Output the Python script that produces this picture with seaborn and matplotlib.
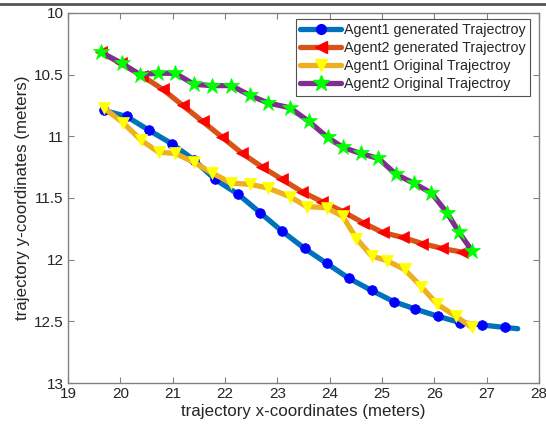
import matplotlib
matplotlib.use("Agg")
import matplotlib.pyplot as plt
import seaborn as sns
import pandas as pd
from matplotlib.lines import Line2D

sns.set_theme(style="white")
plt.rcParams['font.family'] = ['Liberation Sans', 'DejaVu Sans']

a1g_x = [19.68, 20.12, 20.54, 20.98, 21.40, 21.81, 22.25, 22.67, 23.09, 23.52, 23.94, 24.36,
         24.80, 25.22, 25.63, 26.07, 26.49, 26.91, 27.35, 27.59]
a1g_y = [10.79, 10.84, 10.95, 11.06, 11.19, 11.35, 11.47, 11.62, 11.77, 11.91, 12.03, 12.15,
         12.25, 12.34, 12.40, 12.46, 12.51, 12.53, 12.55, 12.56]

a2g_x = [19.63, 20.01, 20.41, 20.81, 21.19, 21.57, 21.95, 22.33, 22.71, 23.09, 23.47, 23.85,
         24.25, 24.63, 25.01, 25.39, 25.77, 26.15, 26.53, 26.72]
a2g_y = [10.32, 10.41, 10.51, 10.62, 10.75, 10.88, 11.01, 11.14, 11.25, 11.35, 11.45, 11.53,
         11.61, 11.70, 11.78, 11.82, 11.87, 11.91, 11.94, 11.94]

a1o_x = [19.68, 20.05, 20.39, 20.73, 21.05, 21.40, 21.76, 22.12, 22.48, 22.82, 23.24, 23.56,
         23.94, 24.25, 24.51, 24.80, 25.10, 25.43, 25.75, 26.05, 26.41, 26.72]
a1o_y = [10.77, 10.89, 11.03, 11.13, 11.14, 11.21, 11.30, 11.38, 11.39, 11.42, 11.49, 11.57,
         11.58, 11.65, 11.83, 11.97, 12.01, 12.08, 12.22, 12.36, 12.46, 12.55]

a2o_x = [19.63, 20.03, 20.37, 20.71, 21.05, 21.41, 21.76, 22.12, 22.48, 22.82, 23.24, 23.60,
         23.96, 24.25, 24.59, 24.93, 25.27, 25.60, 25.94, 26.24, 26.47, 26.72]
a2o_y = [10.32, 10.41, 10.50, 10.49, 10.49, 10.58, 10.59, 10.59, 10.67, 10.73, 10.77, 10.88,
         11.01, 11.09, 11.14, 11.18, 11.31, 11.38, 11.46, 11.62, 11.78, 11.93]

labels = ["Agent1 generated Trajectroy", "Agent2 generated Trajectroy",
          "Agent1 Original Trajectroy", "Agent2 Original Trajectroy"]
x_ticks = [19, 20, 21, 22, 23, 24, 25, 26, 27, 28]
y_ticks = [10, 10.5, 11, 11.5, 12, 12.5, 13]
y_ticklabels = ["10", "10.5", "11", "11.5", "12", "12.5", "13"]

# (x, y, line colour, marker, marker colour, marker size, marker on last point?)
series = [
    (a1g_x, a1g_y, "#0072BD", "o", "#0000FF", 7, False),
    (a2g_x, a2g_y, "#D95319", "<", "#FF0000", 8.5, False),
    (a1o_x, a1o_y, "#EDB120", "v", "#FFFF00", 8.5, True),
    (a2o_x, a2o_y, "#7E2F8E", "*", "#00FF00", 12, True),
]

fig = plt.figure(figsize=(5.46, 4.34), dpi=100)
ax = fig.add_axes([0.1245, 0.1175, 0.863, 0.853])

handles = []
for (xs, ys, lc, mk, mc, ms, last), lab in zip(series, labels):
    df = pd.DataFrame({"x": xs, "y": ys})
    n = len(xs) if last else len(xs) - 1
    sns.lineplot(data=df, x="x", y="y", ax=ax, sort=False, color=lc, linewidth=3.8,
                 marker=mk, markersize=ms, markerfacecolor=mc, markeredgecolor=mc,
                 markeredgewidth=0.5, markevery=list(range(n)))
    handles.append(Line2D([], [], color=lc, linewidth=3.8, marker=mk, markersize=ms,
                          markerfacecolor=mc, markeredgecolor=mc))

ax.set_xlim(19, 28)
ax.set_ylim(13, 10)
ax.set_xticks(x_ticks)
ax.set_xticklabels([str(t) for t in x_ticks])
ax.set_yticks(y_ticks)
ax.set_yticklabels(y_ticklabels)
ax.tick_params(direction="in", length=4, width=0.8, colors="#808080", labelcolor="#262626",
               labelsize=11, top=True, right=True, bottom=True, left=True, pad=3)
for s in ax.spines.values():
    s.set_color("#808080")
    s.set_linewidth(1.0)
ax.set_xlabel("trajectory x-coordinates (meters)", fontsize=12.2, color="#262626", labelpad=2)
ax.set_ylabel("trajectory y-coordinates (meters)", fontsize=12.2, color="#262626", labelpad=3)

leg = ax.legend(handles, labels, loc="upper right", bbox_to_anchor=(0.99, 0.995),
                fontsize=10.3, frameon=True, fancybox=False, handlelength=2.9,
                handletextpad=0.2, labelspacing=0.28, borderpad=0.3, borderaxespad=0.3)
leg.get_frame().set_edgecolor("#262626")
leg.get_frame().set_linewidth(0.8)

fig.add_artist(Line2D([0, 1], [0.99, 0.99], transform=fig.transFigure, color="#555555", linewidth=2))

fig.savefig("out.png", dpi=100)
